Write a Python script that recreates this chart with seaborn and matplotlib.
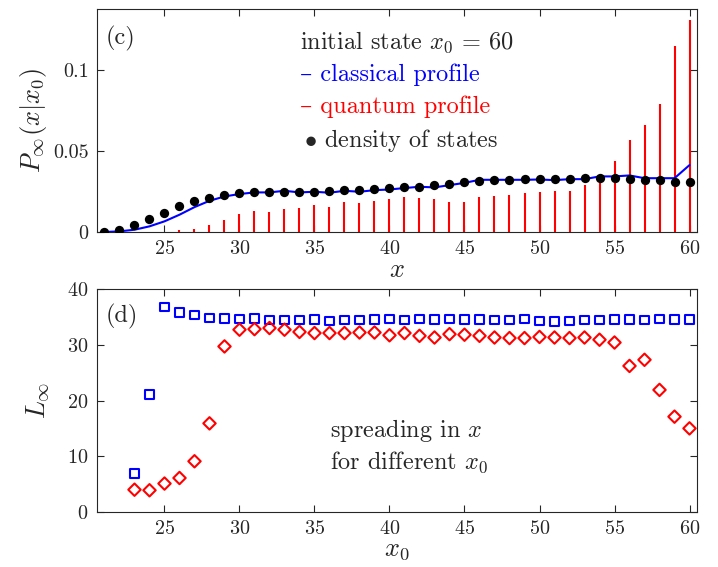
import numpy as np
import pandas as pd
import matplotlib
matplotlib.use("Agg")
import matplotlib.pyplot as plt
import seaborn as sns

# ---------------- data ----------------
x_top = list(range(21, 61))
classical = [0.0, 0.0004, 0.0014, 0.0035, 0.0066, 0.0107, 0.0154, 0.0193, 0.0220, 0.0235,
             0.0245, 0.0245, 0.0255, 0.0245, 0.0249, 0.0243, 0.0255, 0.0249, 0.0259, 0.0263,
             0.0272, 0.0280, 0.0276, 0.0290, 0.0304, 0.0323, 0.0323, 0.0323, 0.0323, 0.0325,
             0.0321, 0.0327, 0.0327, 0.0344, 0.0344, 0.0350, 0.0333, 0.0333, 0.0333, 0.0414]
quantum = [0.0, 0.0, 0.0, 0.0, 0.0, 0.001, 0.002, 0.0041, 0.0076, 0.0113,
           0.0130, 0.0126, 0.0144, 0.0148, 0.0165, 0.0156, 0.0185, 0.0177, 0.0189, 0.0202,
           0.0216, 0.0208, 0.0206, 0.0183, 0.0187, 0.0218, 0.0222, 0.0228, 0.0239, 0.0245,
           0.0251, 0.0251, 0.0288, 0.0313, 0.0440, 0.0570, 0.0663, 0.0792, 0.1150, 0.1311]
dos = [0.0, 0.0014, 0.0045, 0.0082, 0.0120, 0.0160, 0.0190, 0.0210, 0.0226, 0.0239,
       0.0247, 0.0247, 0.0249, 0.0247, 0.0249, 0.0253, 0.0257, 0.0260, 0.0268, 0.0270,
       0.0276, 0.0280, 0.0288, 0.0296, 0.0307, 0.0313, 0.0319, 0.0323, 0.0331, 0.0331,
       0.0327, 0.0331, 0.0333, 0.0333, 0.0333, 0.0327, 0.0323, 0.0319, 0.0311, 0.0311]

x0_bot = list(range(23, 61))
L_classical = [6.9, 21.1, 36.8, 35.8, 35.3, 34.8, 34.7, 34.6, 34.7, 34.4,
               34.4, 34.4, 34.5, 34.3, 34.4, 34.4, 34.5, 34.6, 34.4, 34.6,
               34.5, 34.6, 34.5, 34.5, 34.4, 34.4, 34.6, 34.3, 34.2, 34.3,
               34.4, 34.4, 34.5, 34.5, 34.4, 34.6, 34.5, 34.5]
L_quantum = [4.0, 3.9, 5.1, 6.1, 9.1, 15.9, 29.7, 32.7, 32.8, 33.0,
             32.7, 32.3, 32.1, 32.1, 32.1, 32.2, 32.2, 31.7, 32.1, 31.6,
             31.3, 31.9, 31.8, 31.6, 31.3, 31.2, 31.2, 31.4, 31.3, 31.2,
             31.3, 30.9, 30.4, 26.2, 27.3, 21.9, 17.1, 15.0]

top_yticks = [0, 0.05, 0.1]
top_yticklabels = ["0", "0.05", "0.1"]
xticks = [25, 30, 35, 40, 45, 50, 55, 60]
bot_yticks = [0, 10, 20, 30, 40]

df_top = pd.DataFrame({"x": x_top, "classical": classical, "quantum": quantum, "dos": dos})
df_bot = pd.DataFrame({"x0": x0_bot, "Lc": L_classical, "Lq": L_quantum})

# ---------------- style ----------------
sns.set_theme(style="white")
plt.rcParams["font.family"] = ["cmr10", "DejaVu Serif"]
plt.rcParams["mathtext.fontset"] = "cm"
plt.rcParams["axes.formatter.use_mathtext"] = True
plt.rcParams["axes.unicode_minus"] = False

BLUE = "#0000ff"
RED = "#ff0000"
SPINE = "#262626"

fig = plt.figure(figsize=(7.18, 5.67), dpi=100)
W, H = 718.0, 567.0
ax1 = fig.add_axes([97 / W, 1 - 232 / H, 600 / W, 223 / H])
ax2 = fig.add_axes([97 / W, 1 - 512 / H, 600 / W, 223 / H])

for ax in (ax1, ax2):
    for s in ax.spines.values():
        s.set_color(SPINE)
        s.set_linewidth(0.8)
        s.set_visible(True)
    ax.tick_params(direction="in", top=True, right=True, bottom=True, left=True,
                   length=5, width=0.8, color=SPINE, labelsize=14.5, labelcolor="#262626", pad=6)
    ax.set_facecolor("white")

# ---------------- top panel ----------------
ax1.vlines(df_top["x"], 0, df_top["quantum"], color=RED, linewidth=1.5, zorder=2)
sns.lineplot(data=df_top, x="x", y="classical", ax=ax1, color=BLUE, linewidth=1.5, zorder=3)
sns.scatterplot(data=df_top, x="x", y="dos", ax=ax1, color="black", s=45, edgecolor="black",
                linewidth=0, zorder=4)
ax1.set_xlim(20.5, 60.5)
ax1.set_ylim(0, 0.138)
ax1.set_xticks(xticks)
ax1.set_yticks(top_yticks)
ax1.set_yticklabels(top_yticklabels)
ax1.set_xlabel(r"$x$", fontsize=19, labelpad=0)
ax1.set_ylabel(r"$P_\infty(x|x_0)$", fontsize=19, labelpad=3)

# ---------------- bottom panel ----------------
sns.scatterplot(data=df_bot, x="x0", y="Lc", ax=ax2, marker="s", s=36,
                facecolor="none", edgecolor=BLUE, linewidth=1.5, zorder=3)
sns.scatterplot(data=df_bot, x="x0", y="Lq", ax=ax2, marker="D", s=40,
                facecolor="none", edgecolor=RED, linewidth=1.5, zorder=3)
ax2.set_xlim(20.5, 60.5)
ax2.set_ylim(0, 40)
ax2.set_xticks(xticks)
ax2.set_yticks(bot_yticks)
ax2.set_xlabel(r"$x_0$", fontsize=19, labelpad=0)
ax2.set_ylabel(r"$L_\infty$", fontsize=19, labelpad=12)

# ---------------- annotations ----------------
fs = 17.5
fig.text(106 / W, 1 - 38 / H, "(c)", fontsize=fs, va="center", ha="left")
fig.text(106 / W, 1 - 316 / H, "(d)", fontsize=fs, va="center", ha="left")
fig.text(300 / W, 1 - 42 / H, r"initial state $x_0\,=\,60$", fontsize=fs, va="center", ha="left")
fig.text(300 / W, 1 - 75 / H, "– classical profile", fontsize=fs, va="center", ha="left", color=BLUE)
fig.text(300 / W, 1 - 107 / H, "– quantum profile", fontsize=fs, va="center", ha="left", color=RED)
fig.text(304 / W, 1 - 141 / H, r"$\bullet$ density of states", fontsize=fs, va="center", ha="left")
fig.text(330 / W, 1 - 430 / H, r"spreading in $x$", fontsize=fs, va="center", ha="left")
fig.text(330 / W, 1 - 462 / H, r"for different $x_0$", fontsize=fs, va="center", ha="left")

fig.savefig("out.png", dpi=100, facecolor="white")
